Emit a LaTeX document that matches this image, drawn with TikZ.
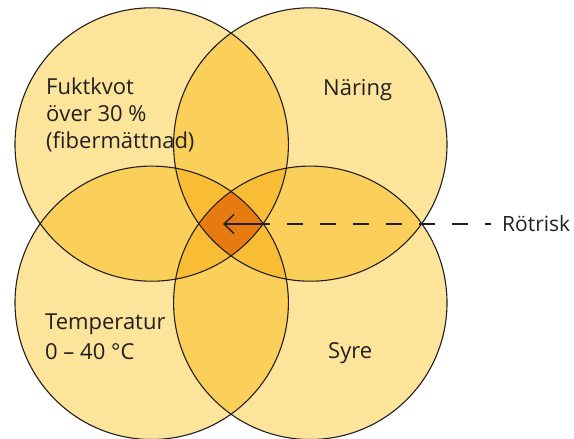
\documentclass[tikz,border=0pt]{standalone}
\usepackage{fontspec}
\setmainfont{Open Sans}
\usetikzlibrary{arrows.meta}
\definecolor{one}{HTML}{FDE49B}
\definecolor{two}{HTML}{FBD05A}
\definecolor{three}{HTML}{F8BD35}
\definecolor{four}{HTML}{E77B0F}
\definecolor{ink}{HTML}{231F20}
\def\circr{136.7pt}

\begin{document}
\begin{tikzpicture}[x=1pt,y=-1pt]

      \useasboundingbox (0,0) rectangle (574,439);

      \coordinate (tl) at (151.7,144.5);
      \coordinate (tr) at (310.3,144.5);
      \coordinate (bl) at (151.7,302.8);
      \coordinate (br) at (310.3,302.8);
      \coordinate (mid)  at (223,224);
      \coordinate (edge) at (263.1,224);

      \foreach \c in {tl,tr,bl,br}
        \fill[one] (\c) circle (\circr);

      \foreach \a/\b in {tl/tr,tl/bl,tl/br,tr/bl,tr/br,bl/br} {
        \begin{scope}
          \clip (\a) circle (\circr);
          \fill[two] (\b) circle (\circr);
        \end{scope}
      }

      \foreach \a/\b/\d in {tl/tr/bl,tl/tr/br,tl/bl/br,tr/bl/br} {
        \begin{scope}
          \clip (\a) circle (\circr);
          \clip (\b) circle (\circr);
          \fill[three] (\d) circle (\circr);
        \end{scope}
      }

      \begin{scope}
        \clip (tl) circle (\circr);
        \clip (tr) circle (\circr);
        \clip (bl) circle (\circr);
        \fill[four] (br) circle (\circr);
      \end{scope}

      \foreach \c in {tl,tr,bl,br}
        \draw[ink,line width=1.1pt] (\c) circle (\circr);

      \begin{scope}[every node/.style={inner sep=0pt,text=ink,align=left,
          font=\fontsize{22}{27}\selectfont}]
        \node[anchor=base west] (fukt) at (46,148)  {Fuktkvot\\över 30 \%\\(fibermättnad)};
        \node[anchor=base west] (nar)  at (323,95) {Näring};
        \node[anchor=base west] (temp) at (45,359) {Temperatur\\[3pt]0 – 40 °C};
        \node[anchor=base west] (syre) at (328,358) {Syre};
        \node[anchor=west,inner xsep=11pt,text height=14.5pt,text depth=0pt,
          font=\fontsize{21}{27}\selectfont] (rot) at (491,224) {Rötrisk};
      \end{scope}

      \begin{scope}[ink,line width=1.4pt]
        \draw[-{Straight Barb[length=10pt,width=19pt]}] (edge) -- (mid);
        \draw[dash pattern=on 16pt off 17pt,dash phase=10pt] (rot.west) -- (edge);
      \end{scope}

    \end{tikzpicture}
\end{document}
